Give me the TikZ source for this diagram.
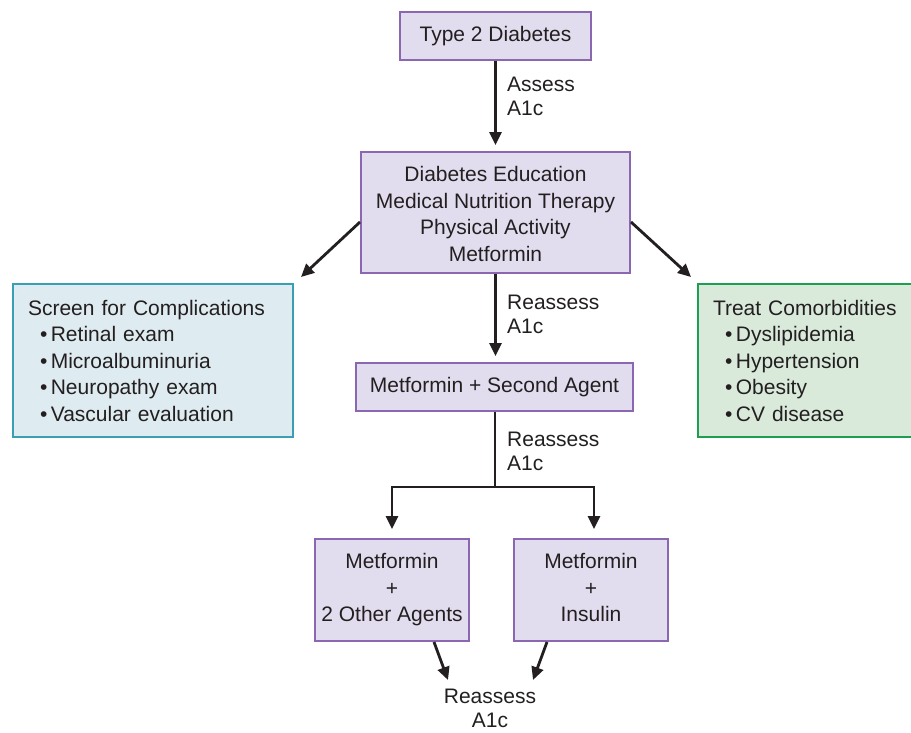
\documentclass[tikz,border=0pt]{standalone}
\usepackage{fontspec}
\setmainfont{Liberation Sans}
\usetikzlibrary{arrows.meta,positioning}
\definecolor{boxLav}{HTML}{E2DDEE}
\definecolor{edgePurple}{HTML}{8A67B0}
\definecolor{boxBlue}{HTML}{DEEBF0}
\definecolor{edgeTeal}{HTML}{3A9FB2}
\definecolor{boxGreen}{HTML}{D9EADB}
\definecolor{edgeGreen}{HTML}{1E9F4F}
\definecolor{inkDark}{HTML}{231F20}
\tikzset{
  stepnode/.style = {rectangle, draw=edgePurple, fill=boxLav, line width=2pt,
                     align=center, inner sep=0pt, text=inkDark,
                     font=\fontsize{21}{26.5}\selectfont},
  listnode/.style = {rectangle, line width=2pt, align=left, inner xsep=15pt,
                     inner ysep=0pt, text=inkDark,
                     font=\fontsize{21}{26.5}\selectfont},
  flowlabel/.style = {align=left, inner sep=0pt, text=inkDark,
                      font=\fontsize{21}{24}\selectfont},
  flowarrow/.style = {-{Triangle[length=13pt,width=12pt]}, line width=2.8pt,
                      draw=inkDark},
  flowline/.style = {line width=2.8pt, draw=inkDark},
}
\newcommand{\itembul}{\hspace*{12pt}\textbullet\,}

\begin{document}
\begin{tikzpicture}[x=1pt,y=-1pt]
  \useasboundingbox (0,0) rectangle (911,732);

  % Top of the chart
  \node[stepnode, minimum width=191, minimum height=48] (type2) at (495.5,36)
    {\strut Type 2 Diabetes};
  \node[stepnode, minimum width=269, minimum height=121] (edu) at (495.5,212.5)
    {\strut Diabetes Education\\ Medical Nutrition Therapy\\ Physical Activity\\ Metformin};

  \node[flowlabel, anchor=west] (assess) at (507,96) {Assess\\ A1c};
  \draw[flowarrow, shorten >=6pt] (type2.south) -- (edu.north);

  % Side boxes
  \node[listnode, draw=edgeTeal, fill=boxBlue, text width=250, minimum height=153]
    (screen) at (153,360.5)
    {Screen for Complications\\ \itembul Retinal exam\\ \itembul Microalbuminuria\\
     \itembul Neuropathy exam\\ \itembul Vascular evaluation};
  \node[listnode, draw=edgeGreen, fill=boxGreen, text width=188, minimum height=153]
    (treat) at (807,360.5)
    {Treat Comorbidities\\ \itembul Dyslipidemia\\ \itembul Hypertension\\
     \itembul Obesity\\ \itembul CV disease};

  \draw[flowarrow] ([yshift=-9.5pt]edu.west) -- ([xshift=7pt,yshift=6pt]screen.north east);
  \draw[flowarrow] ([yshift=-9.5pt]edu.east) -- ([xshift=-6pt,yshift=6pt]treat.north west);

  % Second agent
  \node[stepnode, minimum width=277, minimum height=48] (second) at (494.5,387)
    {\strut Metformin + Second Agent};
  \node[flowlabel, anchor=west] (reassA) at (507,314) {Reassess\\ A1c};
  \draw[flowarrow, shorten >=6pt] (edu.south) -- (edu.south |- second.north);

  % Branch
  \node[stepnode, minimum width=154, minimum height=102] (leftb) at (392,590)
    {Metformin\\ +\\ 2 Other Agents};
  \node[stepnode, minimum width=154, minimum height=102] (rightb) at (591,590)
    {Metformin\\ +\\ Insulin\vphantom{g}};
  \node[flowlabel, anchor=west] (reassB) at (507,451) {Reassess\\ A1c};
  \coordinate (split) at (495,487);
  \draw[flowline] (second.south -| split) -- (split);
  \draw[flowarrow] (split) -| ([yshift=9pt]leftb.north);
  \draw[flowarrow] (split) -| ([xshift=3pt,yshift=9pt]rightb.north);

  % Final reassessment
  \node[flowlabel, align=center] (final) at (490,708) {Reassess\\ A1c};
  \draw[flowarrow] ([xshift=42pt]leftb.south) -- ([xshift=-42pt,yshift=28pt]final.center);
  \draw[flowarrow] ([xshift=-44pt]rightb.south) -- ([xshift=43pt,yshift=28pt]final.center);

\end{tikzpicture}
\end{document}
